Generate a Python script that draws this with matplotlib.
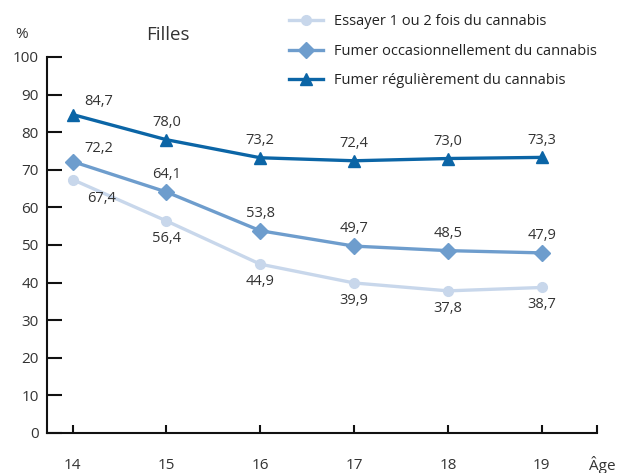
import matplotlib.pyplot as plt

plt.rcParams['font.family'] = ['Open Sans', 'DejaVu Sans']

ages = [14, 15, 16, 17, 18, 19]
essayer = [67.4, 56.4, 44.9, 39.9, 37.8, 38.7]
occasionnel = [72.2, 64.1, 53.8, 49.7, 48.5, 47.9]
regulier = [84.7, 78.0, 73.2, 72.4, 73.0, 73.3]

noms = ["Essayer 1 ou 2 fois du cannabis",
        "Fumer occasionnellement du cannabis",
        "Fumer régulièrement du cannabis"]
couleurs = ["#c8d7eb", "#6e9dcd", "#0b65a6"]
marqueurs = ["o", "D", "^"]
tailles = [7, 8, 8]

fig = plt.figure(figsize=(6.17, 4.73), dpi=100)
ax = fig.add_axes([0.0762, 0.0846, 0.8914, 0.7949])

series = [essayer, occasionnel, regulier]
for vals, nom, c, m, s in zip(series, noms, couleurs, marqueurs, tailles):
    ax.plot(ages, vals, color=c, lw=2.4, marker=m, ms=s, label=nom)

def fmt(v):
    return f"{v:.1f}".replace(".", ",")

# valeurs au-dessus / en dessous des points
for vals in (regulier, occasionnel):
    for i, (x, v) in enumerate(zip(ages, vals)):
        dx, dy = (19, 4) if i == 0 else (0, 7)
        ax.annotate(fmt(v), (x, v), xytext=(dx, dy), textcoords="offset points",
                    ha="center", va="bottom", fontsize=10.5, color="#333333")
for i, (x, v) in enumerate(zip(ages, essayer)):
    dx, dy = (21, -8) if i == 0 else (0, -7)
    ax.annotate(fmt(v), (x, v), xytext=(dx, dy), textcoords="offset points",
                ha="center", va="top", fontsize=10.5, color="#333333")

ax.set_xlim(13.728, 19.588)
ax.set_ylim(0, 100)
ax.set_yticks(range(0, 101, 10))
ax.set_xticks(ages + [19.588])
ax.set_xticklabels([str(a) for a in ages] + [""])

for side in ["top", "right"]:
    ax.spines[side].set_visible(False)
for side in ["left", "bottom"]:
    ax.spines[side].set_linewidth(1.5)
    ax.spines[side].set_color("#111111")

ax.tick_params(axis="y", direction="in", length=11, width=1.5, pad=6,
               labelsize=11, colors="#111111")
ax.tick_params(axis="x", direction="in", length=6, width=1.5, pad=18,
               labelsize=11, colors="#111111")
for lab in ax.get_xticklabels() + ax.get_yticklabels():
    lab.set_color("#333333")

fig.text(22 / 617, 1 - 35 / 473, "%", ha="center", va="center",
         fontsize=11, color="#333333")
fig.text(168 / 617, 1 - 35 / 473, "Filles", ha="center", va="center",
         fontsize=13.5, color="#333333")
fig.text(602 / 617, 1 - 465 / 473, "Âge", ha="center", va="center",
         fontsize=11, color="#333333")

fig.legend(loc="upper left", bbox_to_anchor=(276 / 617, 1 - 1 / 473),
           frameon=False, fontsize=10.5, handlelength=2.3, handletextpad=0.75,
           labelspacing=1.0, labelcolor="#222222")

fig.savefig("out.png", dpi=100)
